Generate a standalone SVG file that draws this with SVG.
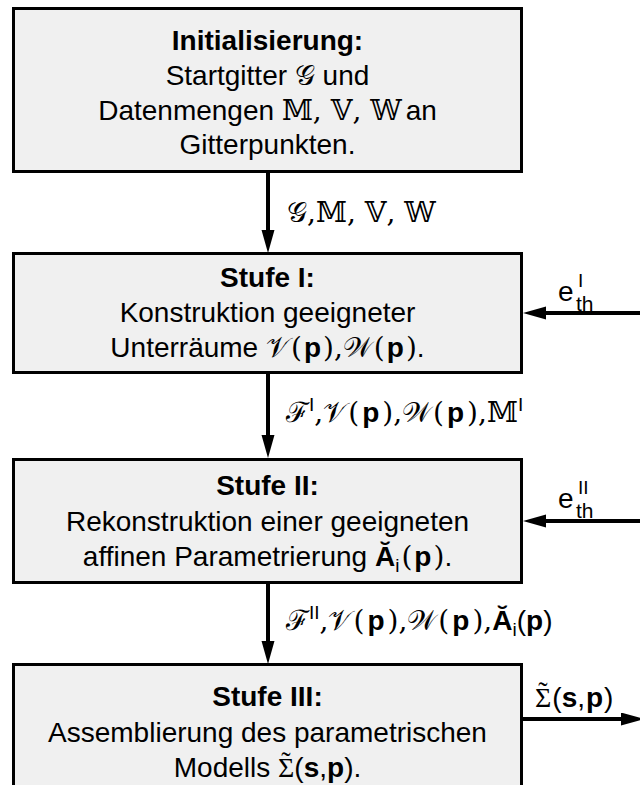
<svg xmlns="http://www.w3.org/2000/svg" width="640" height="785" viewBox="0 0 640 785">
<style>
.box { fill:#f0f0f0; stroke:#000; stroke-width:3 }
.ln { stroke:#000; stroke-width:4; fill:none }
text { font-family:"Liberation Sans", Arial, sans-serif; font-size:28px; fill:#000 }
.c { text-anchor:middle }
.b { font-weight:bold }
.m { font-family:"DejaVu Serif", "Liberation Serif", serif; font-weight:normal }
.r { font-family:"Liberation Serif", serif; font-weight:normal }
.lbl { font-size:28px }
.sm { font-size:19px }
.sb { font-size:21px }
</style>
<defs>
<marker id="ah" markerUnits="userSpaceOnUse" markerWidth="24" markerHeight="14" refX="13" refY="6.5" orient="auto">
<path d="M0,0 L23,6.5 L0,13 z" fill="#000"/>
</marker>
</defs>

<g id="connectors">
<line class="ln" x1="268" y1="172" x2="268" y2="243" marker-end="url(#ah)"/>
<line class="ln" x1="268" y1="373" x2="268" y2="448" marker-end="url(#ah)"/>
<line class="ln" x1="268" y1="583" x2="268" y2="654" marker-end="url(#ah)"/>
<line class="ln" x1="640" y1="313" x2="533" y2="313" marker-end="url(#ah)"/>
<line class="ln" x1="640" y1="521" x2="533" y2="521" marker-end="url(#ah)"/>
<line class="ln" x1="523" y1="719" x2="634" y2="719" marker-end="url(#ah)"/>
<text class="lbl" x="287" y="222"><tspan class="m">𝒢,𝕄, 𝕍, 𝕎</tspan></text>
<text class="lbl" x="286" y="422"><tspan class="m">ℱ</tspan><tspan class="sm" dy="-11">I</tspan><tspan class="m" dy="11">,𝒱</tspan><tspan class="m" dx="2">(</tspan><tspan class="b" dx="3">p</tspan><tspan class="m" dx="3">),𝒲</tspan><tspan class="m" dx="2">(</tspan><tspan class="b" dx="3">p</tspan><tspan class="m" dx="3">),𝕄</tspan><tspan class="sm" dy="-11">I</tspan></text>
<text class="lbl" x="286" y="630"><tspan class="m">ℱ</tspan><tspan class="sm" dy="-11">II</tspan><tspan class="m" dy="11">,𝒱</tspan><tspan class="m" dx="2">(</tspan><tspan class="b" dx="3">p</tspan><tspan class="m" dx="3">),𝒲</tspan><tspan class="m" dx="2">(</tspan><tspan class="b" dx="3">p</tspan><tspan class="m" dx="3">),</tspan><tspan class="b">Ă</tspan><tspan class="sm" dy="6">i</tspan><tspan dy="-6">(</tspan><tspan class="b">p</tspan>)</text>
<text class="lbl" x="558" y="301">e<tspan class="sb" x="576" y="311">th</tspan><tspan class="sm" x="578" y="287">I</tspan></text>
<text class="lbl" x="558" y="508">e<tspan class="sb" x="576" y="518">th</tspan><tspan class="sm" x="578" y="494">II</tspan></text>
<text class="lbl" x="535" y="707"><tspan class="r">Σ</tspan><tspan class="r" dx="-13" dy="-6">˜</tspan><tspan dx="4.7" dy="6">(</tspan><tspan class="b">s</tspan>,<tspan class="b" dx="1">p</tspan><tspan dx="1">)</tspan></text>
</g>

<g id="init">
<rect class="box" x="13.5" y="8.5" width="508" height="163"/>
<text class="c b" x="267.5" y="50">Initialisierung:</text>
<text class="c" x="267.5" y="85">Startgitter <tspan class="m">𝒢</tspan> und</text>
<text class="c" x="267.5" y="120">Datenmengen <tspan class="m">𝕄, 𝕍, 𝕎</tspan><tspan dx="4">an</tspan></text>
<text class="c" x="267.5" y="154">Gitterpunkten.</text>
</g>

<g id="stufe1">
<rect class="box" x="13.5" y="253.5" width="508" height="119"/>
<text class="c b" x="267.5" y="287">Stufe I:</text>
<text class="c" x="267.5" y="322">Konstruktion geeigneter</text>
<text class="c" x="267.5" y="357">Unterräume <tspan class="m">𝒱</tspan><tspan class="m" dx="2">(</tspan><tspan class="b" dx="2">p</tspan><tspan class="m" dx="2">),𝒲</tspan><tspan class="m" dx="2">(</tspan><tspan class="b" dx="2">p</tspan><tspan class="m" dx="2">)</tspan>.</text>
</g>

<g id="stufe2">
<rect class="box" x="13.5" y="459.5" width="508" height="123"/>
<text class="c b" x="267.5" y="495">Stufe II:</text>
<text class="c" x="267.5" y="531">Rekonstruktion einer geeigneten</text>
<text class="c" x="267.5" y="566">affinen Parametrierung <tspan class="b">Ă</tspan><tspan class="sm" dy="6">i</tspan><tspan class="m" dy="-6" dx="2">(</tspan><tspan class="b" dx="2">p</tspan><tspan class="m" dx="2">)</tspan>.</text>
</g>

<g id="stufe3">
<rect class="box" x="13.5" y="664.5" width="508" height="140"/>
<text class="c b" x="267.5" y="706">Stufe III:</text>
<text class="c" x="267.5" y="742">Assemblierung des parametrischen</text>
<text class="c" x="267.5" y="777">Modells <tspan class="r">Σ</tspan><tspan class="r" dx="-13" dy="-6">˜</tspan><tspan dx="3.7" dy="6">(</tspan><tspan class="b">s</tspan>,<tspan class="b">p</tspan>).</text>
</g>
</svg>
